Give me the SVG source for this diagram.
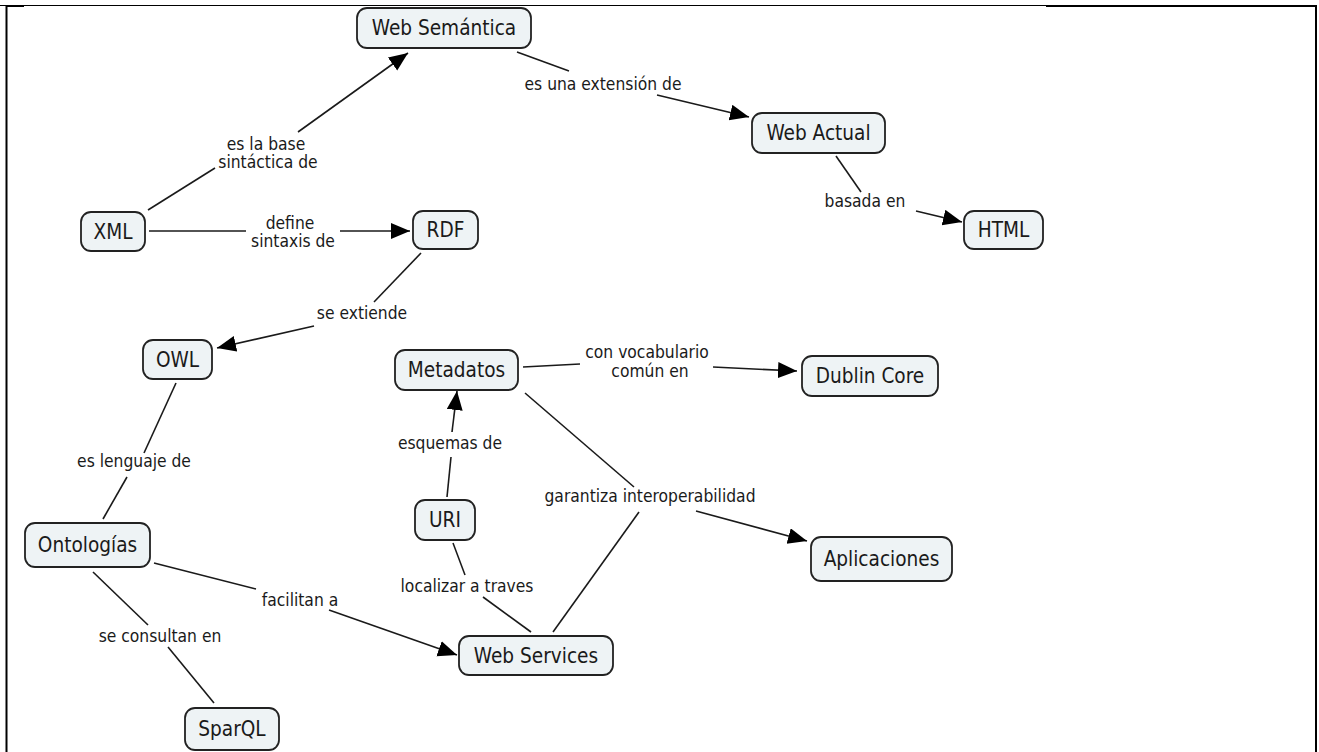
<svg xmlns="http://www.w3.org/2000/svg" width="1319" height="752" viewBox="0 0 1319 752">
<style>
.node rect{fill:#eef3f5;stroke:#222;stroke-width:1.8}
.node text{font-family:"DejaVu Sans Condensed","DejaVu Sans",sans-serif;font-stretch:condensed;font-size:20.6px;fill:#1a1a1a;text-anchor:middle}
.lbl{font-family:"DejaVu Sans Condensed","DejaVu Sans",sans-serif;font-stretch:condensed;font-size:17.3px;fill:#1a1a1a;text-anchor:middle}
.c line{stroke:#1a1a1a;stroke-width:1.6}
.c line.a{marker-end:url(#ah)}
.frame{stroke:#000;fill:none}
</style>
<defs>
<marker id="ah" markerUnits="userSpaceOnUse" markerWidth="22" markerHeight="18" refX="19" refY="8" orient="auto">
<path d="M0,0 L19,8 L0,16 z" fill="#000"/>
</marker>
</defs>
<rect width="1319" height="752" fill="#fff"/>
<g id="frame">
<line class="frame" x1="0" y1="5.5" x2="1046" y2="5.5" stroke-width="1"/>
<line class="frame" x1="1046" y1="6" x2="1317" y2="6" stroke-width="2"/>
<line class="frame" x1="6" y1="6" x2="24" y2="6" stroke-width="2"/>
<line class="frame" x1="6.5" y1="5" x2="6.5" y2="752" stroke-width="2"/>
<line class="frame" x1="1316" y1="5" x2="1316" y2="752" stroke-width="2"/>
</g>
<g id="connectors" class="c">
<line x1="148" y1="210" x2="215" y2="168"/><line class="a" x1="298" y1="132" x2="408" y2="53"/>
<line x1="517" y1="52" x2="569" y2="71"/><line class="a" x1="657" y1="95" x2="749" y2="117"/>
<line x1="836" y1="156" x2="861" y2="192"/><line class="a" x1="916" y1="211" x2="962" y2="222"/>
<line x1="149" y1="231" x2="246" y2="231"/><line class="a" x1="340" y1="231" x2="410" y2="231"/>
<line x1="421" y1="253" x2="374" y2="302"/><line class="a" x1="314" y1="326" x2="217" y2="348"/>
<line x1="176" y1="383" x2="144" y2="453"/><line x1="127" y1="477" x2="103" y2="519"/>
<line x1="93" y1="572" x2="148" y2="625"/><line x1="168" y1="647" x2="214" y2="703"/>
<line x1="154" y1="563" x2="256" y2="589"/><line class="a" x1="329" y1="610" x2="457" y2="655"/>
<line x1="447" y1="497" x2="451" y2="457"/><line class="a" x1="452" y1="432" x2="457" y2="391"/>
<line x1="531" y1="632" x2="483" y2="597"/><line x1="465" y1="575" x2="453" y2="543"/>
<line x1="523" y1="367" x2="580" y2="364"/><line class="a" x1="713" y1="367" x2="797" y2="371"/>
<line x1="525" y1="393" x2="634" y2="487"/><line x1="553" y1="632" x2="639" y2="512"/><line class="a" x1="696" y1="511" x2="807" y2="541"/>
<text class="lbl" x="266" y="150">es la base</text><text class="lbl" x="268" y="168">sintáctica de</text>
<text class="lbl" x="603" y="90">es una extensión de</text>
<text class="lbl" x="865" y="207">basada en</text>
<text class="lbl" x="290" y="229">define</text><text class="lbl" x="293" y="247">sintaxis de</text>
<text class="lbl" x="362" y="319">se extiende</text>
<text class="lbl" x="134" y="467">es lenguaje de</text>
<text class="lbl" x="160" y="642">se consultan en</text>
<text class="lbl" x="300" y="606">facilitan a</text>
<text class="lbl" x="450" y="449">esquemas de</text>
<text class="lbl" x="467" y="592">localizar a traves</text>
<text class="lbl" x="647" y="358">con vocabulario</text><text class="lbl" x="650" y="377">común en</text>
<text class="lbl" x="650" y="502">garantiza interoperabilidad</text>
</g>
<g id="n-websemantica" class="node"><rect x="357" y="8" width="174" height="40" rx="10"/><text x="444" y="35">Web Semántica</text></g>
<g id="n-webactual" class="node"><rect x="752" y="113" width="133" height="40" rx="10"/><text x="818.5" y="140">Web Actual</text></g>
<g id="n-html" class="node"><rect x="964" y="211" width="79" height="38" rx="10"/><text x="1003.5" y="237">HTML</text></g>
<g id="n-xml" class="node"><rect x="81" y="212" width="64" height="39" rx="10"/><text x="113" y="238.5">XML</text></g>
<g id="n-rdf" class="node"><rect x="413" y="211" width="65" height="38" rx="10"/><text x="445.5" y="237">RDF</text></g>
<g id="n-owl" class="node"><rect x="143" y="340" width="69" height="39" rx="10"/><text x="177.5" y="366.5">OWL</text></g>
<g id="n-metadatos" class="node"><rect x="395" y="350" width="123" height="40" rx="10"/><text x="456.5" y="377">Metadatos</text></g>
<g id="n-dublincore" class="node"><rect x="802" y="356" width="136" height="40" rx="10"/><text x="870" y="383">Dublin Core</text></g>
<g id="n-uri" class="node"><rect x="415" y="500" width="60" height="40" rx="10"/><text x="445" y="527">URI</text></g>
<g id="n-ontologias" class="node"><rect x="25" y="523" width="125" height="44" rx="10"/><text x="87.5" y="552">Ontologías</text></g>
<g id="n-aplicaciones" class="node"><rect x="811" y="537" width="141" height="44" rx="10"/><text x="881.5" y="566">Aplicaciones</text></g>
<g id="n-webservices" class="node"><rect x="459" y="636" width="154" height="39" rx="10"/><text x="536" y="662.5">Web Services</text></g>
<g id="n-sparql" class="node"><rect x="185" y="708" width="94" height="42" rx="10"/><text x="232" y="736">SparQL</text></g>
</svg>
